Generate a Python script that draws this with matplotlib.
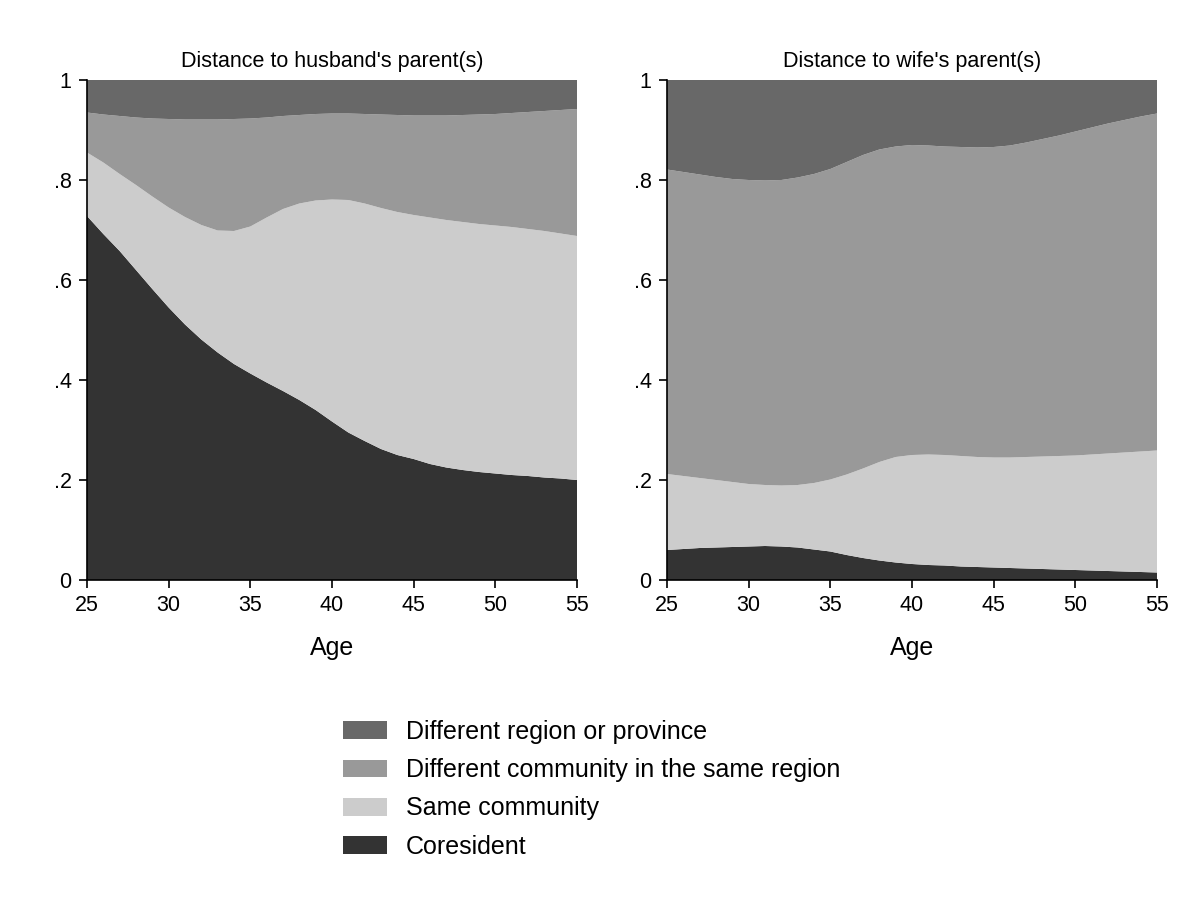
import numpy as np
import matplotlib
matplotlib.use("Agg")
import matplotlib.pyplot as plt
from matplotlib.patches import Patch

plt.rcParams['font.family'] = ['Liberation Sans', 'DejaVu Sans']

ages = list(range(25, 56))

# Cumulative upper boundaries of each layer
# Husband's parents
h_coresident = [0.728, 0.692, 0.658, 0.62, 0.582, 0.545, 0.511, 0.481, 0.455, 0.432, 0.413,
                0.395, 0.378, 0.36, 0.34, 0.317, 0.295, 0.278, 0.262, 0.25, 0.242,
                0.232, 0.225, 0.22, 0.216, 0.213, 0.21, 0.208, 0.205, 0.203, 0.200]
h_samecomm = [0.855, 0.835, 0.812, 0.79, 0.767, 0.745, 0.726, 0.71, 0.699, 0.698, 0.707,
              0.725, 0.742, 0.753, 0.759, 0.761, 0.76, 0.753, 0.744, 0.736, 0.73,
              0.725, 0.72, 0.716, 0.712, 0.709, 0.706, 0.702, 0.698, 0.693, 0.688]
h_diffcomm = [0.935, 0.931, 0.928, 0.925, 0.923, 0.922, 0.921, 0.921, 0.921, 0.922, 0.923,
              0.925, 0.928, 0.93, 0.932, 0.933, 0.933, 0.932, 0.931, 0.93, 0.929,
              0.929, 0.929, 0.93, 0.931, 0.932, 0.934, 0.936, 0.938, 0.94, 0.942]
# Wife's parents
w_coresident = [0.06, 0.062, 0.064, 0.065, 0.066, 0.067, 0.068, 0.067, 0.065, 0.061, 0.057,
                0.05, 0.044, 0.039, 0.035, 0.032, 0.03, 0.029, 0.027, 0.026, 0.025,
                0.024, 0.023, 0.022, 0.021, 0.02, 0.019, 0.018, 0.017, 0.016, 0.015]
w_samecomm = [0.212, 0.208, 0.204, 0.2, 0.196, 0.192, 0.19, 0.189, 0.19, 0.194, 0.201,
              0.211, 0.223, 0.236, 0.246, 0.25, 0.251, 0.25, 0.248, 0.246, 0.245,
              0.245, 0.246, 0.247, 0.248, 0.249, 0.251, 0.253, 0.255, 0.257, 0.259]
w_diffcomm = [0.821, 0.816, 0.811, 0.806, 0.802, 0.8, 0.799, 0.8, 0.805, 0.812, 0.822,
              0.836, 0.85, 0.861, 0.867, 0.87, 0.869, 0.867, 0.866, 0.865, 0.866,
              0.869, 0.875, 0.882, 0.889, 0.897, 0.905, 0.913, 0.92, 0.927, 0.933]

titles = ["Distance to husband's parent(s)", "Distance to wife's parent(s)"]
labels = ["Coresident", "Same community", "Different community in the same region",
          "Different region or province"]
colors = ["#333333", "#cccccc", "#999999", "#686868"]
yticks = [0, 0.2, 0.4, 0.6, 0.8, 1]
yticklabels = ["0", ".2", ".4", ".6", ".8", "1"]
xticks = [25, 30, 35, 40, 45, 50, 55]

fig = plt.figure(figsize=(12, 9), dpi=100)
axes = [fig.add_axes([87/1200, 1-580/900, 490/1200, 500/900]),
        fig.add_axes([667/1200, 1-580/900, 490/1200, 500/900])]

panels = [(h_coresident, h_samecomm, h_diffcomm), (w_coresident, w_samecomm, w_diffcomm)]
for ax, (c, s, d), title in zip(axes, panels, titles):
    cum = np.vstack([np.zeros(len(ages)), c, s, d, np.ones(len(ages))])
    shares = np.diff(cum, axis=0)
    ax.stackplot(ages, shares, colors=colors, linewidth=0)
    ax.set_xlim(25, 55)
    ax.set_ylim(0, 1)
    ax.set_xticks(xticks)
    ax.set_yticks(yticks)
    ax.set_yticklabels(yticklabels)
    ax.tick_params(direction='out', length=6, width=1.2, labelsize=15.5, pad=5, colors='black')
    ax.spines['top'].set_visible(False)
    ax.spines['right'].set_visible(False)
    for sp in ['left', 'bottom']:
        ax.spines[sp].set_linewidth(1.2)
    ax.set_title(title, fontsize=15.5, pad=9)
    ax.set_xlabel("Age", fontsize=18, labelpad=14)

handles = [Patch(facecolor=colors[i], edgecolor='none') for i in [3, 2, 1, 0]]
leg_labels = [labels[i] for i in [3, 2, 1, 0]]
fig.legend(handles, leg_labels, loc='upper left', bbox_to_anchor=(343/1200, 1-720/900),
           frameon=False, fontsize=18, handlelength=1.76, handleheight=0.72,
           handletextpad=0.76, labelspacing=0.57, borderpad=0, borderaxespad=0)

fig.savefig("out.png", dpi=100)
